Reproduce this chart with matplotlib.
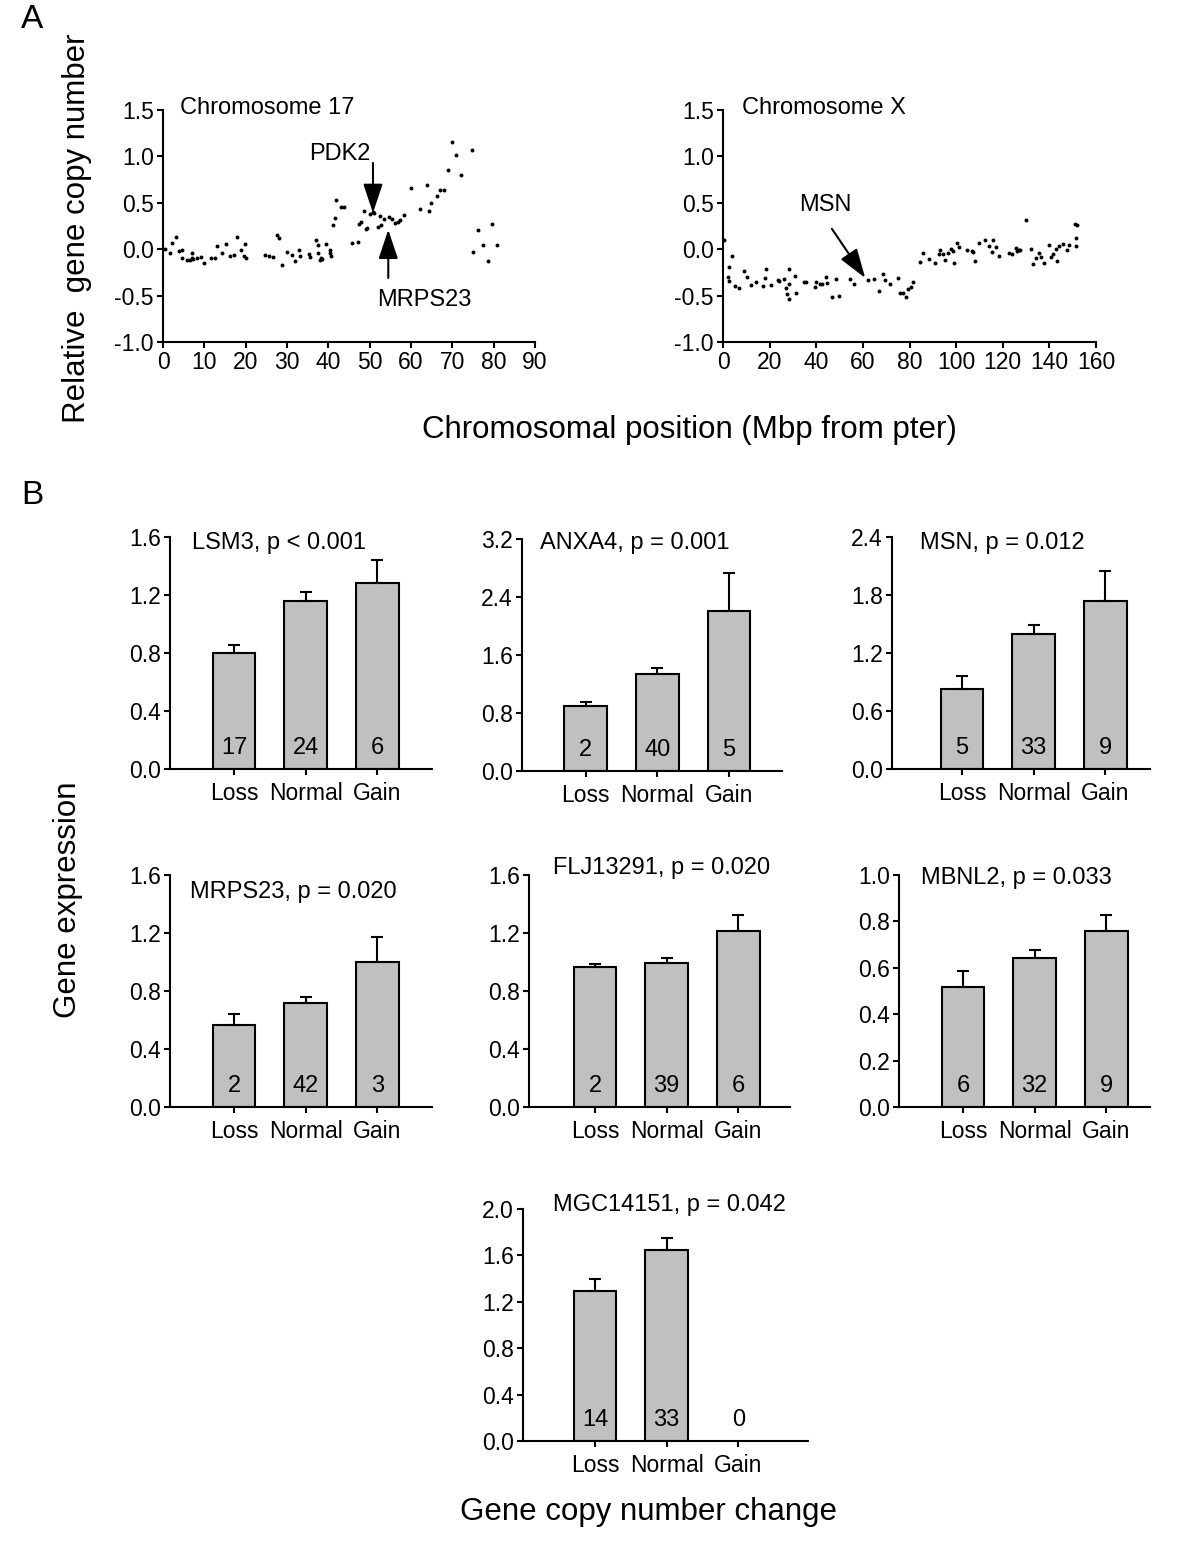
import matplotlib
matplotlib.use("Agg")
import matplotlib.pyplot as plt
import numpy as np

plt.rcParams['font.family'] = ['Liberation Sans', 'DejaVu Sans']

W, H = 1200, 1549

# ---- panel A data (Mbp, relative copy number) ----
chr17_pos = [0.6, 1.6, 2.2, 3.1, 3.9, 4.7, 4.6, 5.9, 6.6, 7.1, 7.1, 7.3, 8.2, 9.2, 9.8,
             11.6, 12.7, 13.0, 14.2, 15.2, 16.2, 17.2, 17.8, 18.9, 19.7, 19.8, 20.0,
             24.7, 25.6, 26.5, 27.6, 28.1, 28.9, 30.0, 31.1, 32.0, 32.9, 33.1, 35.4, 35.5,
             36.9, 37.5, 37.5, 38.1, 38.3, 38.5, 39.5, 40.3, 40.4, 40.7,
             41.2, 41.6, 41.8, 43.1, 43.8, 45.8, 47.2, 47.4, 47.9, 48.6, 49.1, 49.3,
             50.0, 50.8, 51.0, 51.9, 52.5, 52.8, 53.4, 54.6, 55.4, 56.2, 56.8, 57.4,
             58.2, 60.1, 62.2, 63.8, 64.4, 64.8, 66.2, 67.0, 68.0, 69.0, 69.9, 70.8,
             72.1, 74.7, 74.9, 76.3, 77.3, 78.7, 79.5, 80.8]
chr17_cn = [0.00, -0.04, 0.07, 0.13, -0.02, -0.01, -0.10, -0.12, -0.12, -0.04, -0.10, -0.11,
            -0.10, -0.08, -0.15, -0.10, -0.10, 0.03, -0.04, 0.06, -0.07, -0.06, 0.13, -0.01,
            -0.07, 0.06, -0.10, -0.06, -0.07, -0.08, 0.15, 0.12, -0.17, -0.03, -0.06, -0.13,
            -0.01, -0.07, -0.05, -0.08, 0.10, 0.04, -0.04, -0.12, -0.10, -0.11, 0.06, -0.01,
            -0.04, -0.07, 0.26, 0.34, 0.53, 0.45, 0.46, 0.07, 0.08, 0.27, 0.29, 0.41, 0.22,
            0.23, 0.38, 0.40, 0.39, 0.24, 0.36, 0.26, 0.33, 0.35, 0.33, 0.28, 0.29, 0.31,
            0.37, 0.66, 0.43, 0.69, 0.41, 0.50, 0.57, 0.64, 0.64, 0.85, 1.16, 1.02, 0.80,
            1.07, -0.03, 0.21, 0.04, -0.13, 0.27, 0.04]

chrX_pos = [0.6, 2.4, 2.0, 2.7, 4.0, 5.0, 6.9, 9.0, 10.4, 12.1, 14.0, 17.3, 17.9, 18.3,
            20.7, 23.4, 24.1, 26.1, 27.0, 27.3, 28.1, 28.3, 28.4, 30.7, 31.4, 34.7, 35.7,
            39.6, 40.1, 41.4, 42.3, 44.1, 44.4, 46.6, 48.6, 49.7, 54.6, 56.3, 62.4, 64.6,
            66.9, 68.7, 69.7, 71.7, 75.0, 76.1, 77.1, 78.3, 79.4, 80.6, 81.6,
            84.6, 85.6, 88.3, 91.0, 92.6, 93.0, 94.3, 95.4, 96.4, 97.7, 98.6, 99.3, 100.3,
            101.1, 104.6, 106.6, 107.4, 108.1, 109.7, 112.4, 114.3, 115.6, 116.0, 117.3,
            118.3, 122.6, 124.1, 125.6, 126.0, 127.0, 127.4, 130.0, 132.1, 133.1, 134.3,
            135.4, 136.3, 137.7, 139.9, 140.9, 141.7, 142.7, 143.4, 144.0, 146.0, 147.6,
            148.3, 151.0, 151.7, 151.3, 151.3]
chrX_cn = [0.10, -0.19, -0.30, -0.34, -0.07, -0.40, -0.42, -0.24, -0.30, -0.39, -0.35,
           -0.40, -0.31, -0.21, -0.39, -0.33, -0.34, -0.32, -0.42, -0.48, -0.54, -0.21,
           -0.37, -0.29, -0.47, -0.35, -0.35, -0.41, -0.35, -0.38, -0.38, -0.30, -0.36,
           -0.51, -0.32, -0.50, -0.32, -0.37, -0.33, -0.32, -0.45, -0.27, -0.33, -0.37,
           -0.31, -0.47, -0.47, -0.51, -0.43, -0.41, -0.35,
           -0.14, -0.04, -0.11, -0.15, -0.05, -0.01, -0.05, -0.12, -0.04, -0.00, -0.02,
           -0.15, 0.07, 0.02, -0.01, -0.02, -0.03, -0.13, 0.07, 0.10, 0.03, -0.03, 0.10,
           0.02, -0.07, -0.04, -0.05, 0.01, -0.02, -0.01, -0.01, 0.31, 0.00, -0.16, -0.10,
           -0.04, -0.08, -0.15, 0.04, -0.08, -0.05, 0.00, -0.13, 0.03, 0.06, -0.01, 0.04,
           0.27, 0.26, 0.12, 0.03]

# ---- panel B data ----
genes = ['LSM3, p < 0.001', 'ANXA4, p = 0.001', 'MSN, p = 0.012',
         'MRPS23, p = 0.020', 'FLJ13291, p = 0.020', 'MBNL2, p = 0.033',
         'MGC14151, p = 0.042']
categories = ['Loss', 'Normal', 'Gain']
means = [[0.80, 1.156, 1.283],
         [0.892, 1.338, 2.211],
         [0.828, 1.397, 1.734],
         [0.568, 0.720, 1.000],
         [0.968, 0.993, 1.216],
         [0.519, 0.641, 0.757],
         [1.29, 1.65, np.nan]]
sems = [[0.055, 0.062, 0.158],
        [0.060, 0.087, 0.515],
        [0.131, 0.093, 0.314],
        [0.076, 0.039, 0.172],
        [0.021, 0.032, 0.110],
        [0.068, 0.035, 0.070],
        [0.11, 0.10, np.nan]]
counts = [[17, 24, 6], [2, 40, 5], [5, 33, 9], [2, 42, 3], [2, 39, 6], [6, 32, 9], [14, 33, 0]]
yticks = [np.arange(0, 1.61, 0.4), np.arange(0, 3.21, 0.8), np.arange(0, 2.41, 0.6),
          np.arange(0, 1.61, 0.4), np.arange(0, 1.61, 0.4), np.arange(0, 1.01, 0.2),
          np.arange(0, 2.01, 0.4)]


def px_axes(fig, left, right, top, bottom):
    return fig.add_axes([left / W, 1 - bottom / H, (right - left) / W, (bottom - top) / H])


def style(ax, fs=16.5):
    for s in ['top', 'right']:
        ax.spines[s].set_visible(False)
    for s in ['left', 'bottom']:
        ax.spines[s].set_linewidth(1.5)
    ax.tick_params(direction='out', length=4.5, width=1.5, labelsize=fs, pad=2)


fig = plt.figure(figsize=(W / 100, H / 100), dpi=100)

# ---- panel A ----
arrow = dict(arrowstyle='-|>,head_length=0.9,head_width=0.3', color='black', lw=1.5,
             mutation_scale=20, shrinkA=0, shrinkB=0)

ax1 = px_axes(fig, 163, 535, 110, 342)
ax1.scatter(chr17_pos, chr17_cn, s=8, color='black', linewidths=0)
ax1.set_xlim(0, 90)
ax1.set_ylim(-1.0, 1.5)
ax1.set_xticks(np.arange(0, 91, 10))
ax1.set_yticks(np.arange(-1.0, 1.51, 0.5))
ax1.yaxis.set_major_formatter(matplotlib.ticker.FormatStrFormatter('%.1f'))
style(ax1)
ax1.text(4.2, 1.52, 'Chromosome 17', fontsize=17, va='center')
ax1.annotate('', xy=(50.8, 0.39), xytext=(50.8, 0.93), arrowprops=arrow)
ax1.text(42.7, 1.03, 'PDK2', fontsize=17, ha='center', va='center')
ax1.annotate('', xy=(54.5, 0.21), xytext=(54.5, -0.31), arrowprops=arrow)
ax1.text(63.2, -0.55, 'MRPS23', fontsize=17, ha='center', va='center')

ax2 = px_axes(fig, 723, 1096, 110, 342)
ax2.scatter(chrX_pos, chrX_cn, s=8, color='black', linewidths=0)
ax2.set_xlim(0, 160)
ax2.set_ylim(-1.0, 1.5)
ax2.set_xticks(np.arange(0, 161, 20))
ax2.set_yticks(np.arange(-1.0, 1.51, 0.5))
ax2.yaxis.set_major_formatter(matplotlib.ticker.FormatStrFormatter('%.1f'))
style(ax2)
ax2.text(8, 1.52, 'Chromosome X', fontsize=17, va='center')
ax2.annotate('', xy=(61.0, -0.31), xytext=(46.7, 0.22), arrowprops=arrow)
ax2.text(43.9, 0.48, 'MSN', fontsize=17, ha='center', va='center')

fig.text(77 / W, 1 - 228 / H, 'Relative  gene copy number', rotation=90, fontsize=22.5,
         ha='center', va='center')
fig.text(689 / W, 1 - 430 / H, 'Chromosomal position (Mbp from pter)', fontsize=22.5,
         ha='center', va='center')

# ---- panel B ----
# (left spine, Loss bar centre, right end, baseline, title x, title y) in pixels
boxes = [(170, 234, 432, 769, 192, 543), (522, 585.7, 782, 771, 540, 543),
         (892, 962, 1150, 769, 920, 543), (170, 234, 432, 1107, 190, 892),
         (529, 595, 790, 1107, 553, 868), (899, 963, 1150, 1107, 921, 878),
         (523, 595, 808, 1441, 553, 1205)]
sp = 71.7
for i, (L, c0, R, base, tx, ty) in enumerate(boxes):
    ax = px_axes(fig, L, R, base - 232, base)
    x = np.arange(3)
    ax.bar(x, means[i], width=0.595, color='#c0c0c0', edgecolor='black', linewidth=1.5)
    err = np.array(sems[i])
    ax.errorbar(x, means[i], yerr=[np.zeros(3), err], fmt='none', ecolor='black',
                elinewidth=1.5, capsize=4.5, capthick=1.5)
    lo = -(c0 - L) / sp
    ax.set_xlim(lo, lo + (R - L) / sp)
    ax.set_ylim(0, yticks[i][-1])
    ax.set_yticks(yticks[i])
    ax.yaxis.set_major_formatter(matplotlib.ticker.FormatStrFormatter('%.1f'))
    ax.set_xticks(x)
    ax.set_xticklabels(categories)
    style(ax)
    ax.tick_params(axis='x', pad=5)
    for j in range(3):
        ax.text(x[j], 21 / 232, str(counts[i][j]), transform=ax.get_xaxis_transform(),
                ha='center', va='center', fontsize=17)
    fig.text(tx / W, 1 - ty / H, genes[i], fontsize=17, ha='left', va='center')

fig.text(68 / W, 1 - 900 / H, 'Gene expression', rotation=90, fontsize=22.5,
         ha='center', va='center')
fig.text(648 / W, 1 - 1512 / H, 'Gene copy number change', fontsize=22.5,
         ha='center', va='center')

fig.text(32 / W, 1 - 20 / H, 'A', fontsize=24, ha='center', va='center')
fig.text(32 / W, 1 - 495 / H, 'B', fontsize=24, ha='center', va='center')

fig.savefig('out.png', dpi=100)
